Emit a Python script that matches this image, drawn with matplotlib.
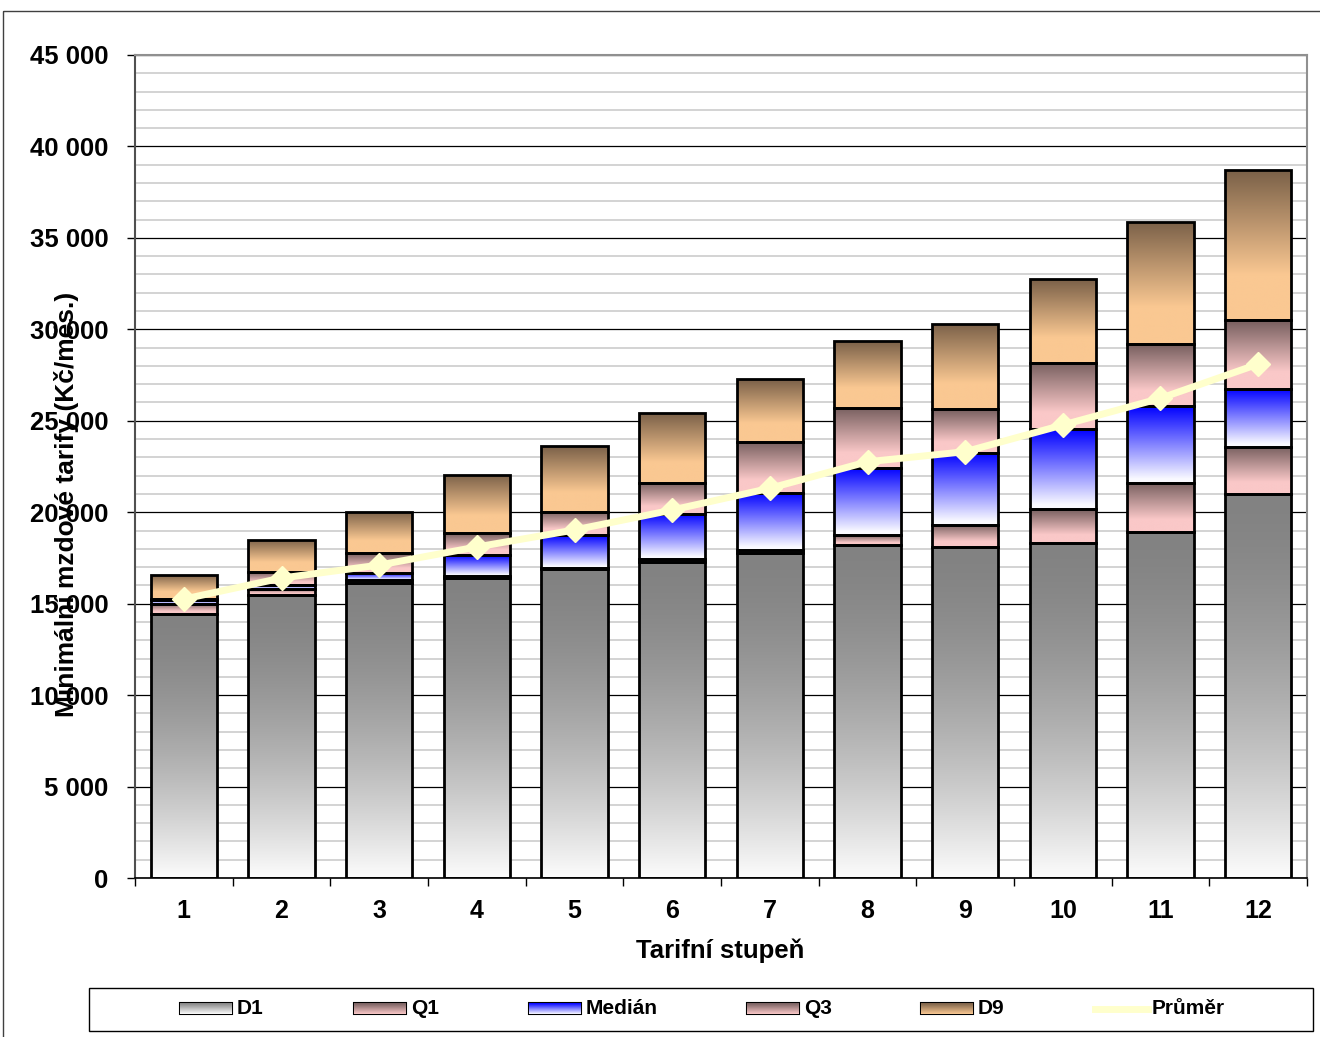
import numpy as np
import matplotlib
matplotlib.use('Agg')
import matplotlib.pyplot as plt
from matplotlib.patches import Rectangle
from matplotlib.lines import Line2D
from matplotlib.ticker import MultipleLocator, FuncFormatter, FixedLocator

plt.rcParams['font.family'] = ['Liberation Sans', 'DejaVu Sans']

# ---------------- data ----------------
categories = ['1', '2', '3', '4', '5', '6', '7', '8', '9', '10', '11', '12']
d1 = [14410, 15470, 16150, 16400, 16880, 17280, 17750, 18210, 18080, 18340, 18900, 20980]
q1 = [15000, 15800, 16320, 16520, 16970, 17430, 17930, 18750, 19300, 20160, 21620, 23550]
median = [15220, 16020, 16700, 17660, 18750, 19900, 21070, 22430, 23260, 24530, 25810, 26750]
q3 = [15240, 16730, 17760, 18840, 20030, 21620, 23860, 25720, 25630, 28140, 29180, 30510]
d9 = [16570, 18480, 20020, 22030, 23620, 25400, 27270, 29360, 30290, 32730, 35870, 38710]
prumer = [15250, 16400, 17110, 18100, 19030, 20120, 21310, 22760, 23310, 24770, 26230, 28100]
series_names = ['D1', 'Q1', 'Medián', 'Q3', 'D9']
line_name = 'Průměr'

# gradient styles: (top colour, bottom colour, fraction of height where bottom colour reached, exponent)
styles = {
    'D1': ((130, 130, 130), (252, 252, 252), 1.0, 1.6),
    'Q1': ((118, 94, 94), (250, 200, 200), 0.75, 1.0),
    'Medián': ((0, 0, 255), (250, 250, 255), 0.95, 1.0),
    'Q3': ((118, 94, 94), (250, 200, 200), 0.75, 1.0),
    'D9': ((122, 96, 72), (250, 200, 146), 0.7, 1.0),
}


def gradient(top, bot, sat, expo=1.0):
    t = np.linspace(0, 1, 256)[:, None]
    t = np.clip(t / sat, 0, 1) ** expo
    top = np.array(top) / 255.0
    bot = np.array(bot) / 255.0
    arr = top[None, None, :] * (1 - t[..., None]) + bot[None, None, :] * t[..., None]
    return arr


FW, FH = 1320, 1037
fig = plt.figure(figsize=(FW / 100, FH / 100), dpi=100)
ax = fig.add_axes([135 / FW, 1 - 878 / FH, (1307 - 135) / FW, (878 - 55) / FH])

x = np.arange(len(categories))
W = 0.68
levels = [d1, q1, median, q3, d9]
prev = np.zeros(len(categories))
for name, vals in zip(series_names, levels):
    vals = np.array(vals, dtype=float)
    heights = vals - prev
    bars = ax.bar(x, heights, W, bottom=prev, facecolor='none', edgecolor='black',
                  linewidth=2.0, zorder=3)
    top, bot, sat, expo = styles[name]
    g = gradient(top, bot, sat, expo)
    for p in bars.patches:
        if p.get_height() <= 0:
            continue
        x0, y0 = p.get_x(), p.get_y()
        im = ax.imshow(g, extent=[x0, x0 + p.get_width(), y0, y0 + p.get_height()],
                       aspect='auto', origin='upper', zorder=2, interpolation='bilinear')
        im.set_clip_path(p)
    prev = vals

ax.plot(x, prumer, color='#ffffcc', linewidth=5, marker='D', markersize=12,
        markeredgecolor='#ffffcc', zorder=5, solid_capstyle='round')

ax.set_xlim(-0.5, len(categories) - 0.5)
ax.set_ylim(0, 45000)
ax.yaxis.set_major_locator(MultipleLocator(5000))
ax.yaxis.set_minor_locator(MultipleLocator(1000))
ax.yaxis.set_major_formatter(FuncFormatter(lambda v, p: f'{int(v):,}'.replace(',', ' ')))
ax.set_axisbelow(True)
ax.grid(axis='y', which='minor', color='#cccccc', linewidth=1.2, zorder=0)
ax.grid(axis='y', which='major', color='black', linewidth=0.9, zorder=0)

ax.set_xticks(x)
ax.set_xticklabels(categories)
ax.xaxis.set_minor_locator(FixedLocator(np.arange(-0.5, len(categories), 1.0)))
ax.tick_params(axis='x', which='major', length=0, pad=15, labelsize=18)
ax.tick_params(axis='x', which='minor', length=6, width=1, direction='out')
ax.tick_params(axis='y', which='major', length=6, width=1, pad=13, labelsize=18.5)
ax.tick_params(axis='y', which='minor', length=0)
for lab in ax.get_xticklabels() + ax.get_yticklabels():
    lab.set_fontweight('bold')

ax.spines['left'].set_color('#505050')
ax.spines['left'].set_linewidth(1.5)
ax.spines['bottom'].set_color('black')
ax.spines['bottom'].set_linewidth(1.2)
for s in ('top', 'right'):
    ax.spines[s].set_color('#909090')
    ax.spines[s].set_linewidth(1.5)

fig.text(720 / FW, 1 - 951 / FH, 'Tarifní stupeň', ha='center', va='center',
         fontsize=18.5, fontweight='bold')
fig.text(67 / FW, 1 - 504 / FH, 'Minimální mzdové tarify (Kč/měs.)', ha='center', va='center',
         rotation=90, fontsize=19, fontweight='bold')

# ---------------- overlay for frame and legend ----------------
ov = fig.add_axes([0, 0, 1, 1], zorder=10)
ov.set_xlim(0, FW)
ov.set_ylim(FH, 0)
ov.axis('off')
ov.patch.set_alpha(0)
ov.add_patch(Rectangle((3, 11), FW + 20, FH + 20, facecolor='none', edgecolor='#404040',
                       linewidth=1.0))
ov.add_patch(Rectangle((89, 988), 1224, 43, facecolor='white', edgecolor='black', linewidth=1.0))

leg_x = [180, 354, 529, 747, 921]
for name, lx in zip(series_names, leg_x):
    top, bot, sat, expo = styles[name]
    g = gradient(top, bot, 1.0, 1.0)
    rect = Rectangle((lx, 1003), 52, 11, facecolor='none', edgecolor='black', linewidth=1.5)
    ov.add_patch(rect)
    im = ov.imshow(g, extent=[lx, lx + 52, 1014, 1003], aspect='auto', origin='upper',
                   zorder=1, interpolation='bilinear')
    im.set_clip_path(rect)
    ov.text(lx + 57, 1009, name, ha='left', va='center', fontsize=15, fontweight='bold')
ov.add_line(Line2D([1095, 1148], [1009, 1009], color='#ffffcc', linewidth=5))
ov.text(1152, 1009, line_name, ha='left', va='center', fontsize=15, fontweight='bold')
ov.set_xlim(0, FW)
ov.set_ylim(FH, 0)

fig.savefig('out.png', dpi=100)
